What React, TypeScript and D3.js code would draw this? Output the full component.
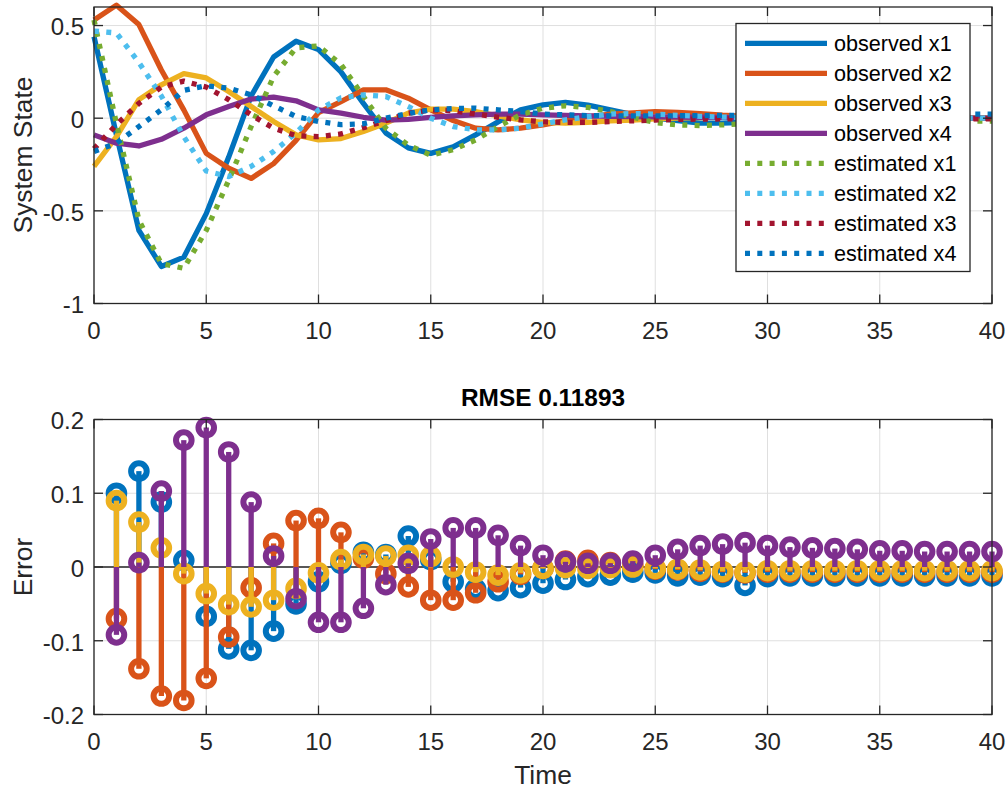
import React from "react";
import * as d3 from "d3";

// ---------- data ----------
const timeSteps = [0,1,2,3,4,5,6,7,8,9,10,11,12,13,14,15,16,17,18,19,20,21,22,23,24,25,26,27,28,29,30,31,32,33,34,35,36,37,38,39,40];

const observedX1 = [0.44,-0.09,-0.605,-0.8,-0.75,-0.515,-0.21,0.12,0.33,0.415,0.37,0.25,0.08,-0.08,-0.16,-0.19,-0.155,-0.09,-0.02,0.045,0.072,0.085,0.07,0.045,0.02,0.0,-0.013,-0.027,-0.027,-0.022,-0.015,-0.008,-0.002,0.002,0.004,0.004,0.003,0.002,0.001,0.0,0.0];
const observedX2 = [0.53,0.61,0.505,0.26,0.045,-0.19,-0.27,-0.325,-0.245,-0.12,0.03,0.09,0.153,0.153,0.108,0.045,-0.013,-0.054,-0.063,-0.054,-0.036,-0.013,0.009,0.022,0.029,0.035,0.031,0.025,0.016,0.01,0.005,0.001,-0.002,-0.003,-0.003,-0.002,-0.001,0.0,0.0,0.0,0.0];
const observedX3 = [-0.26,-0.1,0.1,0.18,0.24,0.217,0.144,0.063,-0.018,-0.09,-0.117,-0.11,-0.072,-0.027,0.027,0.049,0.049,0.036,0.013,-0.009,-0.023,-0.027,-0.023,-0.014,-0.01,-0.004,0.0,0.003,0.004,0.004,0.003,0.002,0.001,0.0,-0.001,-0.001,-0.001,0.0,0.0,0.0,0.0];
const observedX4 = [-0.09,-0.135,-0.15,-0.114,-0.054,0.018,0.063,0.103,0.114,0.094,0.045,0.027,0.005,-0.01,-0.006,0.004,0.013,0.018,0.022,0.022,0.018,0.015,0.012,0.01,0.008,0.007,0.006,0.005,0.004,0.003,0.003,0.002,0.002,0.001,0.001,0.001,0.0,0.0,0.0,0.0,0.0];

const estimatedX1 = [0.53,-0.03,-0.55,-0.785,-0.81,-0.605,-0.335,-0.045,0.225,0.38,0.39,0.29,0.117,-0.054,-0.145,-0.2,-0.17,-0.117,-0.045,0.018,0.054,0.067,0.058,0.036,0.005,-0.024,-0.036,-0.04,-0.036,-0.03,-0.024,-0.02,-0.018,-0.016,-0.015,-0.015,-0.015,-0.015,-0.015,-0.016,-0.016];
const estimatedX2 = [0.47,0.46,0.3,0.12,-0.1,-0.285,-0.315,-0.26,-0.18,-0.08,0.045,0.11,0.126,0.117,0.063,0.0,-0.045,-0.063,-0.063,-0.054,-0.031,-0.009,0.009,0.022,0.025,0.022,0.015,0.01,0.006,0.003,0.001,0.0,-0.001,-0.001,-0.001,0.0,0.0,0.0,0.0,0.0,0.0];
const estimatedX3 = [-0.165,-0.035,0.08,0.168,0.2,0.168,0.1,0.018,-0.054,-0.094,-0.1,-0.085,-0.051,-0.013,0.027,0.045,0.04,0.022,0.005,-0.009,-0.02,-0.023,-0.023,-0.018,-0.014,-0.01,-0.007,-0.005,-0.004,-0.003,-0.003,-0.002,-0.002,-0.002,-0.002,-0.002,-0.003,-0.003,-0.003,-0.003,-0.003];
const estimatedX4 = [-0.18,-0.135,-0.045,0.045,0.15,0.175,0.162,0.126,0.067,0.009,-0.018,-0.035,-0.03,0.0,0.025,0.045,0.052,0.054,0.045,0.036,0.022,0.018,0.014,0.013,0.012,0.012,0.013,0.014,0.015,0.016,0.017,0.018,0.019,0.02,0.02,0.02,0.021,0.022,0.022,0.022,0.022];

const errorSteps = [1,2,3,4,5,6,7,8,9,10,11,12,13,14,15,16,17,18,19,20,21,22,23,24,25,26,27,28,29,30,31,32,33,34,35,36,37,38,39,40];
const errorX1 = [0.1,0.13,0.088,0.009,-0.067,-0.111,-0.113,-0.087,-0.05,-0.02,0.005,0.02,0.017,0.042,0.01,-0.02,-0.03,-0.032,-0.028,-0.022,-0.017,-0.013,-0.011,-0.007,-0.008,-0.012,-0.011,-0.013,-0.025,-0.013,-0.012,-0.012,-0.012,-0.012,-0.012,-0.012,-0.012,-0.012,-0.012,-0.012];
const errorX2 = [-0.07,-0.138,-0.175,-0.181,-0.151,-0.095,-0.028,0.032,0.063,0.066,0.047,0.012,-0.009,-0.027,-0.045,-0.045,-0.035,-0.02,-0.01,-0.002,0.008,0.009,0.006,0.002,-0.003,-0.004,-0.006,-0.007,-0.008,-0.007,-0.007,-0.007,-0.007,-0.007,-0.007,-0.007,-0.007,-0.007,-0.007,-0.007];
const errorX3 = [0.09,0.061,0.026,-0.009,-0.036,-0.051,-0.054,-0.045,-0.029,-0.008,0.01,0.017,0.015,0.016,0.014,0.0,-0.007,-0.011,-0.008,-0.002,-0.001,-0.002,-0.001,0.0,-0.002,-0.003,-0.004,-0.006,-0.007,-0.005,-0.005,-0.005,-0.005,-0.005,-0.005,-0.005,-0.005,-0.005,-0.005,-0.005];
const errorX4 = [-0.092,0.006,0.103,0.172,0.189,0.156,0.088,0.015,-0.043,-0.075,-0.075,-0.056,-0.024,0.005,0.038,0.053,0.053,0.043,0.029,0.016,0.007,0.005,0.005,0.008,0.016,0.024,0.029,0.031,0.033,0.029,0.027,0.026,0.025,0.024,0.022,0.022,0.021,0.021,0.021,0.021];

const legendLabels = ["observed x1","observed x2","observed x3","observed x4","estimated x1","estimated x2","estimated x3","estimated x4"];
const xTicks = [0,5,10,15,20,25,30,35,40];
const yTicksTop = [-1,-0.5,0,0.5];
const yTicksBottom = [-0.2,-0.1,0,0.1,0.2];
const titleText = "RMSE 0.11893";

// ---------- styling ----------
const C = {
  blue: "#0072BD", orange: "#D95319", yellow: "#EDB120", purple: "#7E2F8E",
  green: "#77AC30", lightBlue: "#4DBEEE", darkRed: "#A2142F",
};
const FONT = "'Liberation Sans', Arial, Helvetica, sans-serif";
const AX = "#262626";
const GRID = "#dfdfdf";
const LW = 5.3;
const DASH = "5 7.3";

const seriesTop = [
  { values: observedX1, color: C.blue, dotted: false },
  { values: observedX2, color: C.orange, dotted: false },
  { values: observedX3, color: C.yellow, dotted: false },
  { values: observedX4, color: C.purple, dotted: false },
  { values: estimatedX1, color: C.green, dotted: true },
  { values: estimatedX2, color: C.lightBlue, dotted: true },
  { values: estimatedX3, color: C.darkRed, dotted: true },
  { values: estimatedX4, color: C.blue, dotted: true },
];
const seriesErr = [
  { values: errorX1, color: C.blue },
  { values: errorX2, color: C.orange },
  { values: errorX3, color: C.yellow },
  { values: errorX4, color: C.purple },
];

const X0 = 94, X1 = 992;
const x = d3.scaleLinear().domain([0, 40]).range([X0, X1]);
const yTop = d3.scaleLinear().domain([-1, 0.6]).range([303.5, 7]);
const yBot = d3.scaleLinear().domain([-0.2, 0.2]).range([714.5, 419.5]);

function Grid({ y, yTicks }: { y: d3.ScaleLinear<number, number>; yTicks: number[] }) {
  const [b, t] = y.range();
  return (
    <g>
      {xTicks.map((v) => (
        <line key={"gx" + v} x1={x(v)} x2={x(v)} y1={t} y2={b} stroke={GRID} strokeWidth={1} />
      ))}
      {yTicks.map((v) => (
        <line key={"gy" + v} x1={X0} x2={X1} y1={y(v)} y2={y(v)} stroke={GRID} strokeWidth={1} />
      ))}
    </g>
  );
}

function Axes({ y, yTicks }: { y: d3.ScaleLinear<number, number>; yTicks: number[] }) {
  const [b, t] = y.range();
  const tl = 9;
  return (
    <g fontFamily={FONT} fill={AX}>
      <rect x={X0} y={t} width={X1 - X0} height={b - t} fill="none" stroke={AX} strokeWidth={1.3} />
      {xTicks.map((v) => (
        <g key={"tx" + v}>
          <line x1={x(v)} x2={x(v)} y1={b} y2={b - tl} stroke={AX} strokeWidth={1.3} />
          <line x1={x(v)} x2={x(v)} y1={t} y2={t + tl} stroke={AX} strokeWidth={1.3} />
          <text x={x(v)} y={b + 35.5} textAnchor="middle" fontSize={24}>{String(v)}</text>
        </g>
      ))}
      {yTicks.map((v) => (
        <g key={"ty" + v}>
          <line x1={X0} x2={X0 + tl} y1={y(v)} y2={y(v)} stroke={AX} strokeWidth={1.3} />
          <line x1={X1} x2={X1 - tl} y1={y(v)} y2={y(v)} stroke={AX} strokeWidth={1.3} />
          <text x={84} y={y(v) + 1.5} dy="0.35em" textAnchor="end" fontSize={24}>{String(v)}</text>
        </g>
      ))}
    </g>
  );
}

export default function App() {
  const line = d3.line<number>().x((_, i) => x(timeSteps[i])).y((d) => yTop(d));
  return (
    <svg width={1008} height={793} style={{ position: "absolute", left: 0, top: 0, background: "#fff" }}>
      <rect x={0} y={0} width={1008} height={793} fill="#fff" />
      {/* top plot */}
      <Grid y={yTop} yTicks={yTicksTop} />
      {seriesTop.map((s, i) => (
        <path key={"s" + i} d={line(s.values) || ""} fill="none" stroke={s.color} strokeWidth={LW}
          strokeDasharray={s.dotted ? DASH : undefined} strokeLinejoin="round" />
      ))}
      <Axes y={yTop} yTicks={yTicksTop} />
      <text x={32} y={155} transform="rotate(-90 32 155)" textAnchor="middle" fontSize={26.4} fontFamily={FONT} fill={AX}>System State</text>

      {/* legend */}
      <g fontFamily={FONT}>
        <rect x={736} y={23.5} width={234} height={248} fill="#fff" stroke={AX} strokeWidth={1.3} />
        {legendLabels.map((lab, i) => {
          const yy = 43.3 + 30 * i;
          const s = seriesTop[i];
          return (
            <g key={"lg" + i}>
              <line x1={745} x2={827} y1={yy} y2={yy} stroke={s.color} strokeWidth={LW} strokeDasharray={s.dotted ? DASH : undefined} />
              <text x={834} y={yy} dy="0.35em" fontSize={21.6} fill="#000">{lab}</text>
            </g>
          );
        })}
      </g>

      {/* bottom plot */}
      <Grid y={yBot} yTicks={yTicksBottom} />
      <line x1={X0} x2={X1} y1={yBot(0)} y2={yBot(0)} stroke={AX} strokeWidth={1.3} />
      {seriesErr.map((s, si) => (
        <g key={"e" + si}>
          {s.values.map((v, i) => (
            <line key={"st" + i} x1={x(errorSteps[i])} x2={x(errorSteps[i])} y1={yBot(0)} y2={yBot(v)} stroke={s.color} strokeWidth={LW} />
          ))}
          {s.values.map((v, i) => (
            <circle key={"mk" + i} cx={x(errorSteps[i])} cy={yBot(v)} r={7.8} fill="none" stroke={s.color} strokeWidth={6} />
          ))}
        </g>
      ))}
      <Axes y={yBot} yTicks={yTicksBottom} />
      <text x={543} y={406} textAnchor="middle" fontSize={24.4} fontWeight="bold" fontFamily={FONT} fill="#000">{titleText}</text>
      <text x={543} y={784} textAnchor="middle" fontSize={26.4} fontFamily={FONT} fill={AX}>Time</text>
      <text x={32} y={567} transform="rotate(-90 32 567)" textAnchor="middle" fontSize={26.4} fontFamily={FONT} fill={AX}>Error</text>
    </svg>
  );
}
